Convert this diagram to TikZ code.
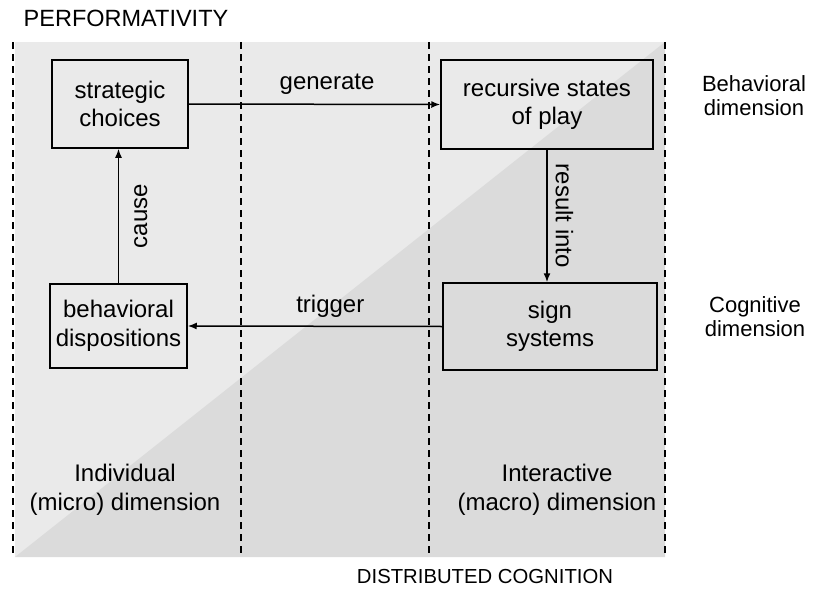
\documentclass[tikz,border=0pt]{standalone}
\usepackage{fontspec}
\setmainfont{Liberation Sans}
\usetikzlibrary{arrows.meta}
\definecolor{lightbg}{HTML}{EAEAEA}
\definecolor{darkbg}{HTML}{DBDBDB}
\tikzset{
  box/.style={draw,line width=1.5pt,align=center,inner sep=0pt},
  lbl/.style={align=center,inner sep=0pt},
  sidelbl/.style={align=center,inner sep=0pt,font=\fontsize{22}{24}\selectfont},
  sep/.style={line width=1.7pt,dash pattern=on 7pt off 5pt},
  conn/.style={-{Latex[length=9pt,width=7pt]},line width=1.5pt}
}
\begin{document}
\begin{tikzpicture}[x=1pt,y=-1pt,font=\fontsize{24}{28.5}\selectfont]
          \useasboundingbox (0,0) rectangle (817,589);
          % background, split along the diagonal
          \fill[lightbg] (15,42) rectangle (665,557);
          \fill[darkbg] (15,557) -- (665,42) -- (665,557) -- cycle;
          \foreach \x in {13,241,429,665}
            \draw[sep] (\x,42) -- (\x,557);
          % boxes
          \node[box,minimum width=136pt,minimum height=88pt] (strat) at (120,104) {strategic\\choices};
          \node[box,minimum width=212pt,minimum height=89pt] (recur) at (547,104.5) {recursive states\\of play};
          \node[box,minimum width=137pt,minimum height=84pt] (disp) at (118.5,326) {behavioral\\dispositions};
          \node[box,minimum width=214pt,minimum height=87pt] (sign) at (550,326.5) {sign\\systems};
          % arrows
          \draw[conn] (strat.east) -- node[lbl,pos=0.55,above=9pt]{generate} (recur.west);
          \draw[conn] (recur.south) -- node[lbl,midway,sloped,above=8pt]{result into} (recur.south |- sign.north);
          \draw[conn] (sign.west) -- node[lbl,pos=0.44,above=8pt]{trigger} (disp.east);
          \draw[conn] (disp.north) -- node[lbl,midway,sloped,below=15pt]{cause} (disp.north |- strat.south);
          % dimension labels
          \node[lbl] (indiv) at (125,490) {Individual\\(micro) dimension};
          \node[lbl] (inter) at (557,490) {Interactive\\(macro) dimension};
          \node[sidelbl] (behav) at (754,96) {Behavioral\\dimension};
          \node[sidelbl] (cogn) at (755,317) {Cognitive\\dimension};
          \node[lbl,font=\fontsize{23.5}{26}\selectfont] (perf) at (126,18) {PERFORMATIVITY};
          \node[lbl,font=\fontsize{20.3}{24}\selectfont] (distr) at (485,577) {DISTRIBUTED COGNITION};
        \end{tikzpicture}
\end{document}
